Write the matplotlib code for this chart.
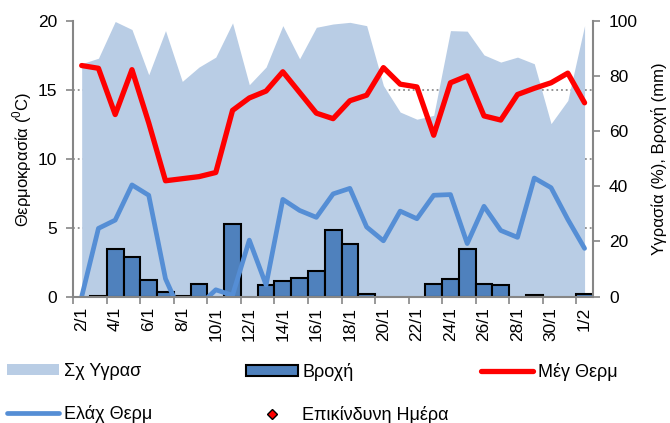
import matplotlib
matplotlib.use("Agg")
import matplotlib.pyplot as plt
import numpy as np

plt.rcParams["font.family"] = ["Liberation Sans", "DejaVu Sans"]
plt.rcParams["font.size"] = 12
plt.rcParams["mathtext.fontset"] = "custom"
plt.rcParams["mathtext.rm"] = "Liberation Sans"

# daily values 2/1 .. 1/2
days = ["2/1", "3/1", "4/1", "5/1", "6/1", "7/1", "8/1", "9/1", "10/1", "11/1",
        "12/1", "13/1", "14/1", "15/1", "16/1", "17/1", "18/1", "19/1", "20/1",
        "21/1", "22/1", "23/1", "24/1", "25/1", "26/1", "27/1", "28/1", "29/1",
        "30/1", "31/1", "1/2"]
humidity = [84.4, 86.4, 99.7, 96.8, 80.4, 96.4, 78.0, 83.2, 86.8, 99.2, 76.8,
            83.2, 98.2, 86.2, 97.6, 98.8, 99.4, 98.2, 76.5, 66.9, 64.3, 65.7,
            96.4, 96.2, 87.6, 85.0, 86.8, 84.4, 62.7, 71.1, 98.2]
rain = [0, 0.3, 17.2, 14.2, 6.0, 1.6, 0.3, 4.6, 0, 26.2, 0, 4.1, 5.8, 6.6, 9.3,
        24.1, 19.1, 0.9, 0, 0, 0, 4.7, 6.3, 17.1, 4.5, 4.2, 0, 0.6, 0, 0, 1.0]
t_max = [16.75, 16.55, 13.2, 16.45, 12.6, 8.4, 8.55, 8.7, 9.0, 13.5, 14.4, 14.9,
         16.3, 14.8, 13.3, 12.9, 14.2, 14.6, 16.6, 15.4, 15.2, 11.7, 15.5, 16.0,
         13.1, 12.8, 14.65, 15.1, 15.5, 16.2, 14.05]
t_min = [0.0, 4.95, 5.55, 8.1, 7.35, 1.3, -1.4, -0.65, 0.5, 0.1, 4.1, 0.85, 7.05,
         6.25, 5.75, 7.45, 7.85, 5.05, 4.05, 6.2, 5.65, 7.35, 7.4, 3.85, 6.55,
         4.8, 4.3, 8.6, 7.9, 5.6, 3.5]
danger_days = []  # no dangerous days in this period

AXIS_GRAY = "#868686"
TICK_SIZE = 12.5

x = np.arange(len(days))
rain_arr = np.array(rain)
wet = rain_arr > 0

fig = plt.figure(figsize=(6.7, 4.23), dpi=100)
ax = fig.add_axes([0.1094, 0.2986, 0.7756, 0.6525])
ax2 = ax.twinx()
ax.set_zorder(ax2.get_zorder() + 1)
ax.patch.set_visible(False)

# humidity + rain on the right axis (drawn behind)
area = ax2.fill_between(x, humidity, color="#B9CDE5", lw=0, label="Σχ Υγρασ")
bars = ax2.bar(x[wet], rain_arr[wet], width=1.0, color="#4F81BD",
               edgecolor="black", linewidth=1.5, label="Βροχή")
ax2.set_ylim(0, 100)
ax2.set_yticks(np.arange(0, 101, 20))
ax2.set_yticks(np.arange(25, 101, 25), minor=True)
ax2.grid(True, which="minor", axis="y", ls=":", color="#8c8c8c", lw=1.3)
ax2.set_axisbelow(True)
ax2.tick_params(axis="y", which="major", direction="out", length=5,
                color=AXIS_GRAY, width=1.2, labelsize=TICK_SIZE, pad=6.5)
ax2.tick_params(axis="y", which="minor", length=0)

# temperatures on the left axis
l_max, = ax.plot(x, t_max, color="#FF0000", lw=3.8, solid_joinstyle="round",
                 solid_capstyle="round", label="Μέγ Θερμ")
l_min, = ax.plot(x, t_min, color="#558ED5", lw=3.4, solid_joinstyle="round",
                 solid_capstyle="round", label="Ελάχ Θερμ")
l_dang, = ax.plot(danger_days, [], "D", color="red", mec="black", mew=1.0,
                  ms=5.5, label="Επικίνδυνη Ημέρα")

ax.set_xlim(-0.5, len(days) - 0.5)
ax.set_ylim(0, 20)
ax.set_yticks(np.arange(0, 21, 5))
ax.set_xticks(np.arange(-0.5, len(days) - 1, 2))
ax.set_xticks(x[::2], minor=True)
ax.set_xticklabels([])
ax.set_xticklabels(days[::2], minor=True, rotation=90)
ax.tick_params(axis="x", which="major", direction="out", length=5,
               color=AXIS_GRAY, width=1.2)
ax.tick_params(axis="x", which="minor", length=0, pad=7.5, labelsize=TICK_SIZE)
ax.tick_params(axis="y", direction="out", length=5, color=AXIS_GRAY,
               width=1.2, labelsize=TICK_SIZE, pad=6.5)

for s in ["top", "right"]:
    ax.spines[s].set_visible(False)
for s in ["left", "bottom"]:
    ax.spines[s].set_color(AXIS_GRAY)
    ax.spines[s].set_linewidth(1.5)
for s in ["top", "left", "bottom"]:
    ax2.spines[s].set_visible(False)
ax2.spines["right"].set_color(AXIS_GRAY)
ax2.spines["right"].set_linewidth(1.5)

fig.text(22 / 670, 1 - 159 / 423, "Θερμοκρασία ($^0$C)", rotation=90,
         ha="center", va="center", fontsize=12)
fig.text(659 / 670, 1 - 159 / 423, "Υγρασία (%), Βροχή (mm)", rotation=90,
         ha="center", va="center", fontsize=12)

# legend laid out as three fixed-width columns
leg_kw = dict(loc="upper left", frameon=False, borderpad=0, borderaxespad=0,
              handlelength=2.88, handleheight=0.55, handletextpad=0.25,
              labelspacing=1.38, fontsize=13)
top = 1 - 363 / 423
fig.legend([area, l_min], ["Σχ Υγρασ", "Ελάχ Θερμ"],
           bbox_to_anchor=(7 / 670, top), **leg_kw)
fig.legend([bars, l_dang], ["Βροχή", "Επικίνδυνη Ημέρα"],
           bbox_to_anchor=(245.5 / 670, top), **leg_kw)
fig.legend([l_max], ["Μέγ Θερμ"],
           bbox_to_anchor=(481.5 / 670, top), **leg_kw)

fig.savefig("out.png", dpi=100)
